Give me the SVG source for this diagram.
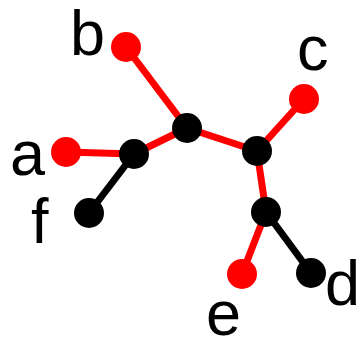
<svg xmlns="http://www.w3.org/2000/svg" width="356" height="337" viewBox="0 0 356 337">
<style>
.r{stroke:#ff0000;stroke-width:7;fill:none}
.k{stroke:#000;stroke-width:7;fill:none}
.nr{fill:#ff0000}
.nk{fill:#000}
text{font-family:"Liberation Sans",Arial,sans-serif;font-size:63px;fill:#000}
</style>
<rect width="356" height="337" fill="#fff"/>
<g id="edges">
<line class="r" x1="66" y1="152" x2="134" y2="154"/>
<line class="r" x1="134" y1="154" x2="187" y2="128"/>
<line class="r" x1="187" y1="128" x2="126" y2="47"/>
<line class="r" x1="187" y1="128" x2="257" y2="151"/>
<line class="r" x1="257" y1="151" x2="304" y2="99"/>
<line class="r" x1="257" y1="151" x2="266" y2="212"/>
<line class="r" x1="266" y1="212" x2="242" y2="274"/>
<line class="k" x1="134" y1="154" x2="89" y2="213"/>
<line class="k" x1="266" y1="212" x2="311" y2="273"/>
</g>
<g id="a"><circle class="nr" cx="66" cy="152" r="15"/><text x="10" y="175">a</text></g>
<g id="b"><circle class="nr" cx="126" cy="47" r="15"/><text x="70" y="55">b</text></g>
<g id="c"><circle class="nr" cx="304" cy="99" r="15"/><text x="297" y="70">c</text></g>
<g id="d"><circle class="nk" cx="311" cy="273" r="15"/><text x="325" y="305">d</text></g>
<g id="e"><circle class="nr" cx="242" cy="274" r="15"/><text x="206" y="335">e</text></g>
<g id="f"><circle class="nk" cx="89" cy="213" r="15"/><text x="31" y="243">f</text></g>
<g id="n1"><circle class="nk" cx="134" cy="154" r="15"/></g>
<g id="n2"><circle class="nk" cx="187" cy="128" r="15"/></g>
<g id="n3"><circle class="nk" cx="257" cy="151" r="15"/></g>
<g id="n4"><circle class="nk" cx="266" cy="212" r="15"/></g>
</svg>
